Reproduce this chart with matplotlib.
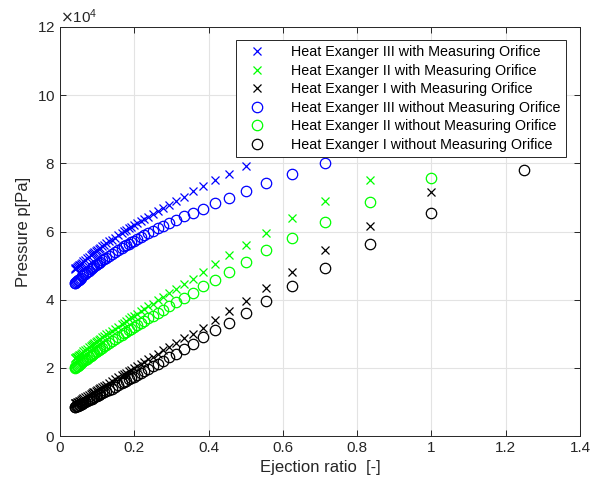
import matplotlib
matplotlib.use("Agg")
import matplotlib.pyplot as plt

# Ejektionsverhältnis (gleich für alle Reihen)
ejection_ratio = [1.25, 1.0, 0.8333, 0.7143, 0.625, 0.5556, 0.5, 0.4545, 0.4167, 0.3846, 0.3571,
                  0.3333, 0.3125, 0.2941, 0.2778, 0.2632, 0.25, 0.2381, 0.2273, 0.2174, 0.2083,
                  0.2, 0.1923, 0.1852, 0.1786, 0.1724, 0.1667, 0.1563, 0.1471, 0.1389, 0.1316,
                  0.125, 0.119, 0.1136, 0.1087, 0.1042, 0.1, 0.0962, 0.0926, 0.0893, 0.0862,
                  0.0833, 0.0769, 0.0714, 0.0667, 0.0625, 0.0588, 0.0556, 0.0526, 0.05, 0.0476,
                  0.0455, 0.0435, 0.0417, 0.04]

# Druck in 1e4 Pa
he3_with = [11.19, 10.19, 9.48, 8.95, 8.54, 8.3, 7.92, 7.69, 7.50, 7.34, 7.19,
            7.02, 6.90, 6.79, 6.69, 6.60, 6.52, 6.44, 6.38, 6.31, 6.25,
            6.20, 6.14, 6.10, 6.05, 6.01, 5.97, 5.89, 5.82, 5.76, 5.71,
            5.66, 5.61, 5.57, 5.53, 5.49, 5.46, 5.43, 5.40, 5.37, 5.34,
            5.32, 5.26, 5.21, 5.17, 5.13, 5.09, 5.06, 5.03, 5.01, 4.98,
            4.96, 4.94, 4.92, 4.90]
he2_with = [9.6, 8.35, 7.51, 6.89, 6.39, 5.95, 5.59, 5.30, 5.04, 4.81, 4.62,
            4.45, 4.31, 4.19, 4.07, 3.98, 3.88, 3.80, 3.73, 3.66, 3.59,
            3.53, 3.48, 3.43, 3.38, 3.33, 3.29, 3.21, 3.15, 3.08, 3.03,
            2.98, 2.93, 2.89, 2.85, 2.82, 2.78, 2.75, 2.72, 2.70, 2.67,
            2.65, 2.60, 2.55, 2.51, 2.48, 2.44, 2.42, 2.39, 2.37, 2.35,
            2.33, 2.31, 2.29, 2.28]
he1_with = [8.45, 7.17, 6.17, 5.47, 4.82, 4.35, 3.96, 3.66, 3.39, 3.18, 2.99,
            2.87, 2.73, 2.61, 2.51, 2.41, 2.33, 2.25, 2.18, 2.11, 2.05,
            2.00, 1.95, 1.90, 1.86, 1.82, 1.78, 1.72, 1.66, 1.60, 1.56,
            1.51, 1.47, 1.44, 1.41, 1.38, 1.35, 1.33, 1.30, 1.28, 1.26,
            1.24, 1.20, 1.16, 1.13, 1.11, 1.08, 1.06, 1.04, 1.03, 1.01,
            1.00, 0.98, 0.97, 0.96]
he3_without = [9.75, 8.99, 8.44, 8.00, 7.69, 7.41, 7.19, 6.99, 6.83, 6.66, 6.54,
               6.45, 6.34, 6.25, 6.16, 6.09, 6.01, 5.95, 5.89, 5.83, 5.78,
               5.73, 5.68, 5.64, 5.59, 5.56, 5.52, 5.45, 5.39, 5.33, 5.28,
               5.23, 5.19, 5.15, 5.11, 5.08, 5.04, 5.01, 4.98, 4.96, 4.93,
               4.91, 4.85, 4.80, 4.76, 4.72, 4.68, 4.65, 4.62, 4.59, 4.57,
               4.54, 4.52, 4.50, 4.48]
he2_without = [8.55, 7.58, 6.86, 6.29, 5.82, 5.46, 5.10, 4.82, 4.59, 4.40, 4.21,
               4.04, 3.92, 3.80, 3.70, 3.61, 3.53, 3.45, 3.38, 3.31, 3.25,
               3.20, 3.15, 3.10, 3.05, 3.01, 2.97, 2.90, 2.84, 2.78, 2.72,
               2.68, 2.63, 2.59, 2.55, 2.52, 2.49, 2.46, 2.43, 2.41, 2.38,
               2.36, 2.31, 2.26, 2.22, 2.19, 2.16, 2.13, 2.10, 2.08, 2.06,
               2.04, 2.02, 2.01, 1.99]
he1_without = [7.80, 6.55, 5.62, 4.92, 4.40, 3.96, 3.60, 3.33, 3.10, 2.90, 2.71,
               2.55, 2.42, 2.31, 2.21, 2.12, 2.04, 1.97, 1.90, 1.85, 1.79,
               1.74, 1.70, 1.66, 1.62, 1.58, 1.55, 1.49, 1.44, 1.39, 1.35,
               1.32, 1.28, 1.25, 1.22, 1.20, 1.18, 1.16, 1.14, 1.12, 1.10,
               1.08, 1.05, 1.02, 0.99, 0.97, 0.95, 0.93, 0.92, 0.90, 0.89,
               0.88, 0.87, 0.86, 0.85]

series = [
    (he3_with, "x", "#0000ff", "Heat Exanger III with Measuring Orifice"),
    (he2_with, "x", "#00ff00", "Heat Exanger II with Measuring Orifice"),
    (he1_with, "x", "#000000", "Heat Exanger I with Measuring Orifice"),
    (he3_without, "o", "#0000ff", "Heat Exanger III without Measuring Orifice"),
    (he2_without, "o", "#00ff00", "Heat Exanger II without Measuring Orifice"),
    (he1_without, "o", "#000000", "Heat Exanger I without Measuring Orifice"),
]

plt.rcParams["font.family"] = ["Liberation Sans", "DejaVu Sans"]
fig = plt.figure(figsize=(6.02, 4.88), dpi=100)
ax = fig.add_axes([60 / 602, 1 - 436 / 488, 520 / 602, 409 / 488])

for values, marker, color, label in series:
    pa = [v * 1e4 for v in values]
    if marker == "o":
        ax.plot(ejection_ratio, pa, linestyle="none", marker="o", markersize=7.5,
                markerfacecolor="none", markeredgecolor=color, markeredgewidth=0.9, label=label)
    else:
        ax.plot(ejection_ratio, pa, linestyle="none", marker="x", markersize=5.5,
                color=color, markeredgewidth=0.9, label=label)

ax.set_xlim(0, 1.4)
ax.set_ylim(0, 12e4)
ax.set_xticks([0, 0.2, 0.4, 0.6, 0.8, 1.0, 1.2, 1.4])
ax.set_xticklabels(["0", "0.2", "0.4", "0.6", "0.8", "1", "1.2", "1.4"])
ax.set_yticks([0, 2e4, 4e4, 6e4, 8e4, 10e4, 12e4])
ax.ticklabel_format(style="sci", axis="y", scilimits=(4, 4), useMathText=True)
ax.yaxis.get_offset_text().set_fontsize(11)
ax.yaxis.get_offset_text().set_color("#262626")

ax.grid(True, color="#e3e3e3", linewidth=0.8)
ax.set_axisbelow(True)
ax.tick_params(direction="in", length=4, top=True, right=True, labelsize=11,
               colors="#262626", width=0.7)
for sp in ax.spines.values():
    sp.set_color("#262626")
    sp.set_linewidth(0.7)

ax.set_xlabel("Ejection ratio  [-]", fontsize=12, color="#262626")
ax.set_ylabel("Pressure p[Pa]", fontsize=12, color="#262626")

leg = ax.legend(loc="upper right", bbox_to_anchor=(506 / 520, 396 / 409), borderaxespad=0,
                fontsize=10.3, frameon=True, fancybox=False, framealpha=1,
                edgecolor="#262626", handletextpad=1.3, borderpad=0.35, labelspacing=0.32,
                handlelength=2.2)
leg.get_frame().set_linewidth(0.7)

fig.savefig("out.png", dpi=100)
